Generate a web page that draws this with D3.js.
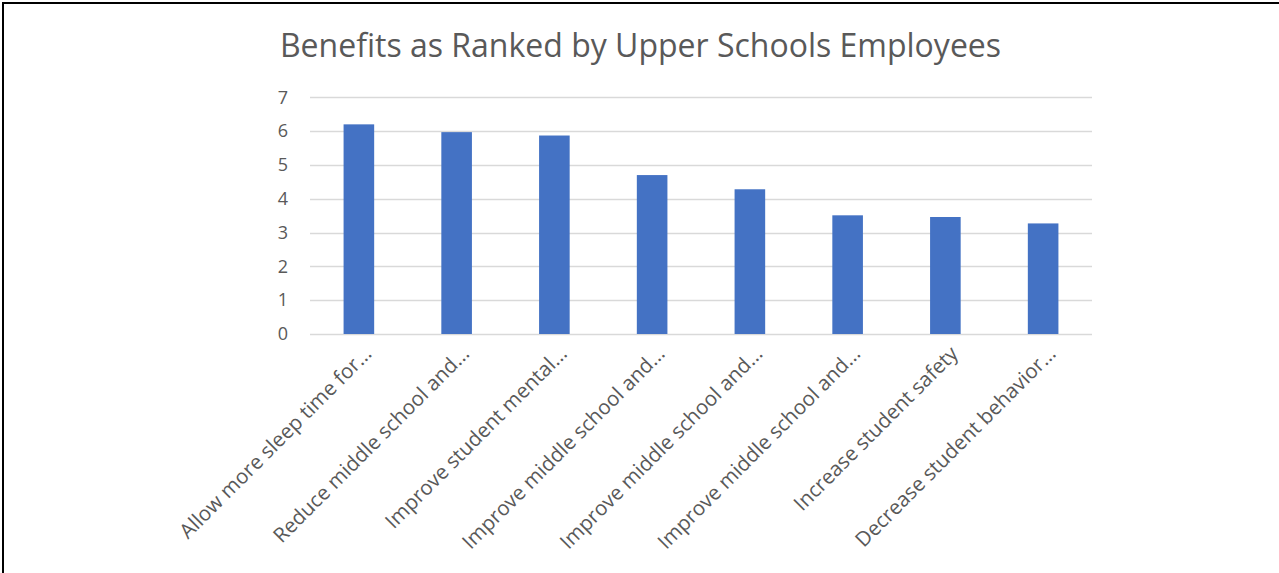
<!DOCTYPE html>
<html>
<head>
<meta charset="utf-8">
<script src="https://cdn.jsdelivr.net/npm/d3@7/dist/d3.min.js"></script>
<style>
  html, body { margin: 0; padding: 0; background: #fff; }
  svg { display: block; }
  text { font-family: "Open Sans", "Noto Sans", sans-serif; fill: #595959; }
</style>
</head>
<body>
<svg id="chart" width="1279" height="573"></svg>
<script>
// Benefit categories (truncated as shown on the axis)
const categories = [
  "Allow more sleep time for...",
  "Reduce middle school and...",
  "Improve student mental...",
  "Improve middle school and...",
  "Improve middle school and...",
  "Improve middle school and...",
  "Increase student safety",
  "Decrease student behavior..."
];
// Average ranking score for each benefit
const scores = [6.2, 5.97, 5.87, 4.7, 4.28, 3.51, 3.46, 3.27];
const yTicks = [0, 1, 2, 3, 4, 5, 6, 7];
const chartTitle = "Benefits as Ranked by Upper Schools Employees";

const svg = d3.select("#chart");
const W = 1279, H = 573;
const plot = { left: 310, right: 1092, top: 97.3, bottom: 334 };

// Outer frame (left and top edges)
svg.append("path")
  .attr("d", `M3,${H} L3,3 L${W},3`)
  .attr("fill", "none")
  .attr("stroke", "#000")
  .attr("stroke-width", 2);

const x = d3.scaleBand()
  .domain(d3.range(categories.length))
  .range([plot.left, plot.right])
  .paddingInner(0.687)
  .paddingOuter(0.3435);

const y = d3.scaleLinear()
  .domain([0, 7])
  .range([plot.bottom, plot.top]);

// Horizontal gridlines
svg.append("g")
  .selectAll("line")
  .data(yTicks)
  .join("line")
  .attr("x1", plot.left)
  .attr("x2", plot.right)
  .attr("y1", d => Math.round(y(d)) + 0.5)
  .attr("y2", d => Math.round(y(d)) + 0.5)
  .attr("stroke", "#d9d9d9")
  .attr("stroke-width", 1.3);

// Y axis labels
const yAxis = d3.axisLeft(y).tickValues(yTicks).tickFormat(d3.format("d")).tickSize(0).tickPadding(0);
const yg = svg.append("g")
  .attr("transform", `translate(${plot.left - 22},0)`)
  .call(yAxis);
yg.select(".domain").remove();
yg.selectAll("text")
  .attr("font-size", 18)
  .attr("fill", "#595959")
  .attr("font-family", "'Open Sans', 'Noto Sans', sans-serif");

// Bars
svg.append("g")
  .selectAll("rect")
  .data(scores)
  .join("rect")
  .attr("x", (d, i) => x(i))
  .attr("width", x.bandwidth())
  .attr("y", d => y(d))
  .attr("height", d => y(0) - y(d))
  .attr("fill", "#4472C4");

// Rotated category labels
svg.append("g")
  .selectAll("text")
  .data(categories)
  .join("text")
  .attr("transform", (d, i) => `translate(${x(i) + x.bandwidth() / 2 + 14},${plot.bottom + 21}) rotate(-45)`)
  .attr("text-anchor", "end")
  .attr("font-size", 20.5)
  .text(d => d);

// Title
svg.append("text")
  .attr("x", 640.5)
  .attr("y", 57)
  .attr("text-anchor", "middle")
  .attr("font-size", 32)
  .text(chartTitle);
</script>
</body>
</html>
